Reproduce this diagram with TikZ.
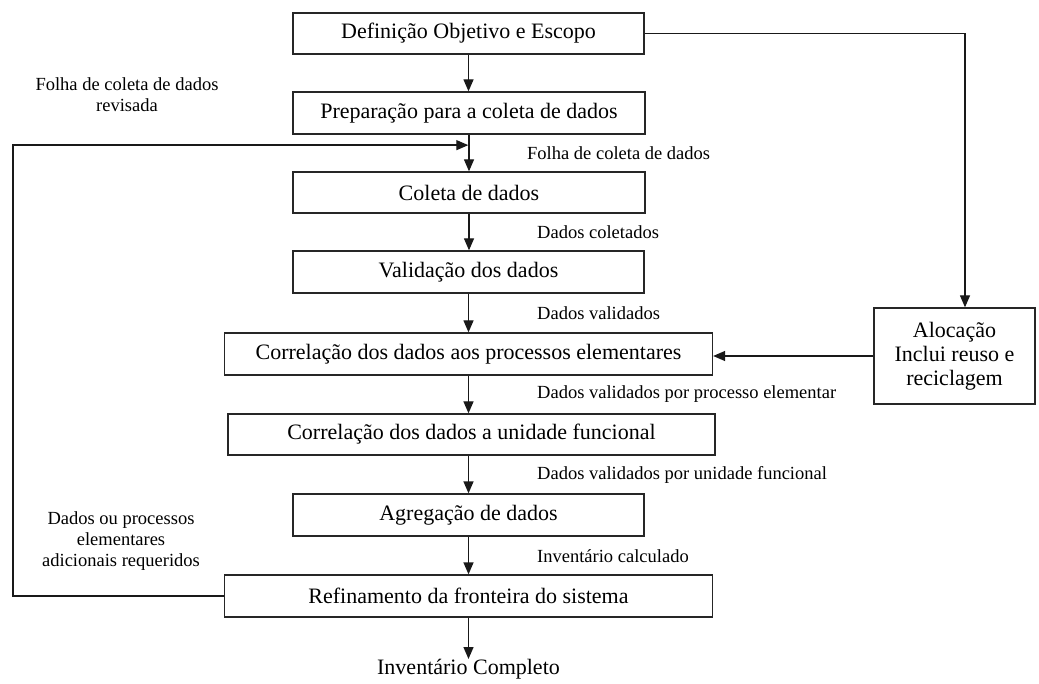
\documentclass[tikz,border=0pt]{standalone}
\usepackage{fontspec}
\setmainfont{Liberation Serif}
\usetikzlibrary{arrows.meta,calc}
\begin{document}
\begin{tikzpicture}[x=1pt,y=-1pt,
  box/.style={draw=black!85,line width=1.3pt,fill=white,inner sep=0pt,
    align=center,font=\fontsize{22}{24}\selectfont},
  lbl/.style={inner sep=0pt,font=\fontsize{18.5}{21}\selectfont},
  arr/.style={line width=1.3pt,black!90,-{Triangle[length=12pt,width=10pt]}}]
\useasboundingbox (0,0) rectangle (1039,684);

% process steps
\node[box,minimum width=351pt,minimum height=41pt] (def)    at (468.5,33.5) {Definição Objetivo e Escopo};
\node[box,minimum width=352pt,minimum height=42pt] (prep)   at (469,113)   {Preparação para a coleta de dados};
\node[box,minimum width=352pt,minimum height=41pt] (coleta) at (469,192.5) {Coleta de dados};
\node[box,minimum width=351pt,minimum height=42pt] (valid)  at (468.5,272) {Validação dos dados};
\node[box,minimum width=488pt,minimum height=42pt] (corrA)  at (468.5,354) {Correlação dos dados aos processos elementares};
\node[box,minimum width=487pt,minimum height=41pt] (corrB)  at (471.5,434.5) {Correlação dos dados a unidade funcional};
\node[box,minimum width=351pt,minimum height=42pt] (agreg)  at (468.5,515) {Agregação de dados};
\node[box,minimum width=488pt,minimum height=42pt] (refine) at (468.5,596) {Refinamento da fronteira do sistema};
\node[box,minimum width=161pt,minimum height=96pt] (alloc)  at (954.5,356)
  {Alocação\\Inclui reuso e\\reciclagem};
\node[inner sep=0pt,font=\fontsize{22}{24}\selectfont,anchor=north] (inv) at (468.5,659) {Inventário Completo};

% flow labels
\node[lbl,anchor=west] (l1) at (527,153) {Folha de coleta de dados};
\node[lbl,anchor=west] (l2) at (537,232) {Dados coletados};
\node[lbl,anchor=west] (l3) at (537,313) {Dados validados};
\node[lbl,anchor=west] (l4) at (537,394) {Dados validados por processo elementar};
\node[lbl,anchor=west] (l5) at (537,475) {Dados validados por unidade funcional};
\node[lbl,anchor=west] (l6) at (537,556) {Inventário calculado};
\node[lbl,align=center] (lrev) at (127,95) {Folha de coleta de dados\\revisada};
\node[lbl,align=center] (ladd) at (121,541) {Dados ou processos\\elementares\\adicionais requeridos};

% main sequence
\draw[arr] (def.south)    -- (def.south |- prep.north);
\draw[arr] (prep.south)   -- (prep.south |- coleta.north);
\draw[arr] (coleta.south) -- (coleta.south |- valid.north);
\draw[arr] (valid.south)  -- (valid.south |- corrA.north);
\draw[arr] (corrA.south)  -- (corrA.south |- corrB.north);
\draw[arr] ([xshift=-3pt]corrB.south) -- ([xshift=-3pt]corrB.south |- agreg.north);
\draw[arr] (agreg.south)  -- (agreg.south |- refine.north);
\draw[arr] (refine.south) -- (refine.south |- inv.north);

% allocation branch
\draw[arr] (def.east) -| ([xshift=10.5pt]alloc.north);
\draw[arr] (alloc.west) -- (alloc.west -| corrA.east);

% feedback loop
\coordinate (fb) at ($(prep.south)+(-0.7,10.5)$);
\draw[arr] (refine.west) -- ++(-211,0) |- (fb);
\end{tikzpicture}
\end{document}
